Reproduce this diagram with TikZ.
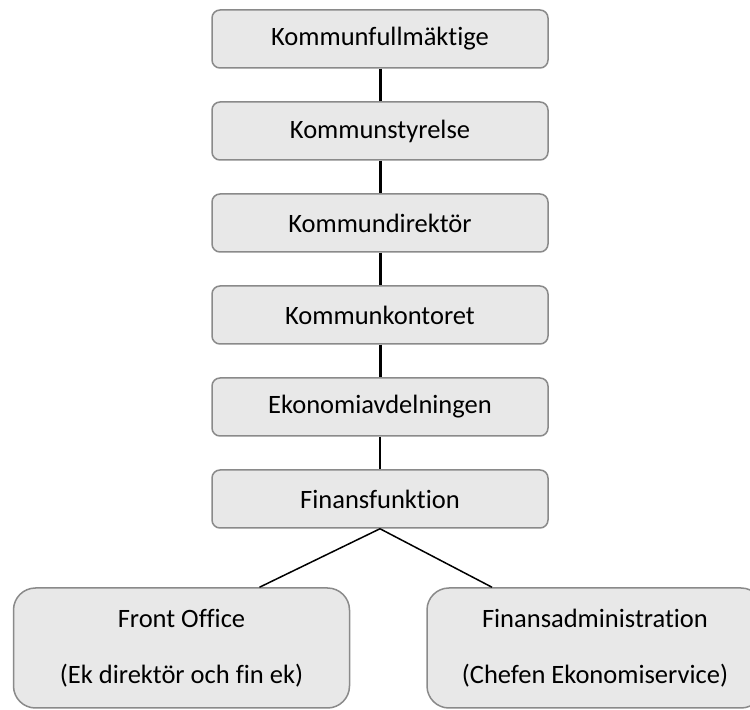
\documentclass[tikz,border=0pt]{standalone}
\usepackage{fontspec}
\setmainfont{Carlito}[Ligatures=NoCommon]
\usetikzlibrary{positioning}
\definecolor{cfill}{HTML}{E8E8E8}
\definecolor{cedge}{HTML}{8A8A8A}
\tikzset{
  every picture/.style={line width=0.75pt},
  box/.style={draw=cedge, fill=cfill, rounded corners=4pt, align=center, inner sep=0pt,
    minimum width=168pt, minimum height=29pt, font=\fontsize{13.25pt}{16pt}\selectfont},
  bigbox/.style={box, rounded corners=11pt, minimum width=168pt, minimum height=60pt,
    font=\fontsize{13.25pt}{28pt}\selectfont},
  link/.style={draw=black, line width=1.5pt},
  thinlink/.style={draw=black, line width=0.75pt},
}

\begin{document}
\begin{tikzpicture}[x=0.5pt, y=-0.5pt]
  \useasboundingbox (0,0) rectangle (750,710);
  \clip (0,0) rectangle (750,710);
  \foreach \t [count=\j] in {Kommunfullmäktige, Kommunstyrelse, Kommundirektör, Kommunkontoret, Ekonomiavdelningen, Finansfunktion} {
    \node[box] (k\j) at (380, 39+92*\j-92) {\t};
  }
  \foreach \j [evaluate=\j as \n using int(\j+1)] in {1,...,4} \draw[link] (k\j) -- (k\n);
  \draw[thinlink] (k5) -- (k6);
  \node[bigbox] (fo) at (181.5, 648) {Front Office\\(Ek direktör och fin ek)};
  \node[bigbox] (fa) at (595, 648) {Finansadministration\\(Chefen Ekonomiservice)};
  \draw[thinlink] (k6.south) -- ([xshift=39pt]fo.north);
  \draw[thinlink] (k6.south) -- ([xshift=-51.5pt]fa.north);
\end{tikzpicture}
\end{document}
